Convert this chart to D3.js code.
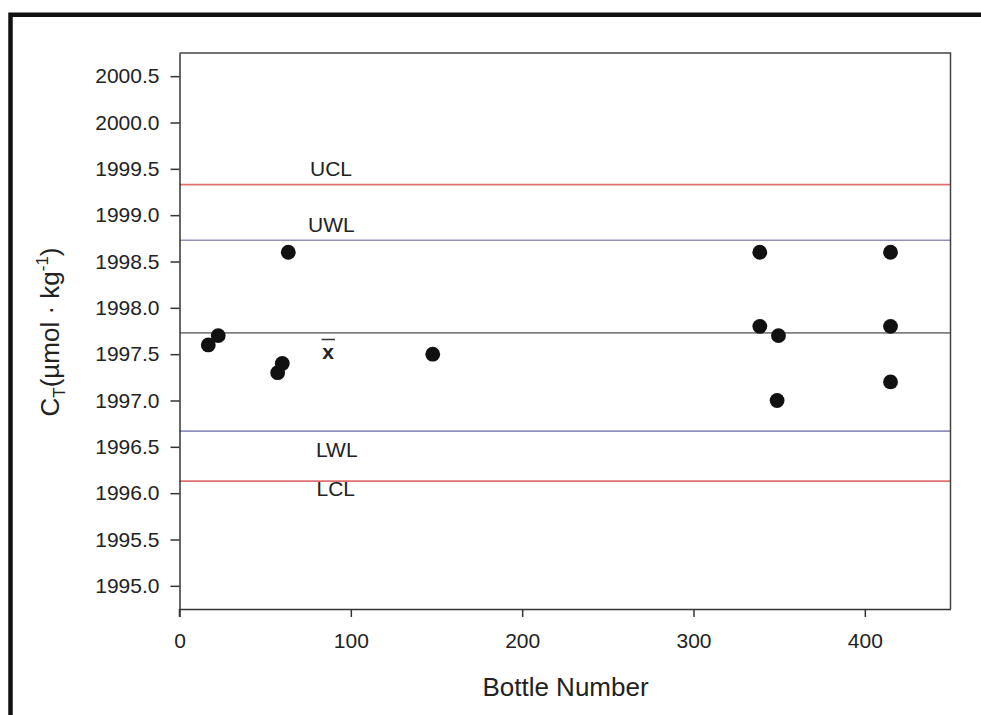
<!DOCTYPE html>
<html>
<head>
<meta charset="utf-8">
<script src="https://cdn.jsdelivr.net/npm/d3@7"></script>
<style>
body { margin: 0; background: #fff; }
svg { display: block; font-family: "Liberation Sans", Arial, sans-serif; }
</style>
</head>
<body>
<div id="chart"></div>
<script>
// bottle measurements
var bottleNo = [16.8, 22.6, 57.3, 60.0, 63.5, 147.8, 338.7, 338.7, 349.6, 348.8, 415, 415, 415];
var ctValue  = [1997.6, 1997.7, 1997.3, 1997.4, 1998.6, 1997.5, 1998.6, 1997.8, 1997.7, 1997.0, 1998.6, 1997.8, 1997.2];

// control chart limits
var limitNames  = ["UCL", "UWL", "mean", "LWL", "LCL"];
var limitValues = [1999.33, 1998.73, 1997.73, 1996.67, 1996.13];
var limitColors = ["#e07070", "#9090c0", "#808080", "#9090c0", "#e07070"];

var xTicks = [0, 100, 200, 300, 400];
var yTicks = d3.range(1995.0, 2000.51, 0.5);

var W = 981, H = 715;
var margin = {left: 179.5, top: 53, right: W - 950.5, bottom: H - 609};

var svg = d3.select("#chart").append("svg")
    .attr("width", W)
    .attr("height", H);

svg.append("rect").attr("width", W).attr("height", H).attr("fill", "#fff");

// outer frame (top + left only)
svg.append("path")
    .attr("d", "M10.5," + H + " V14.8 H" + W)
    .attr("fill", "none")
    .attr("stroke", "#111")
    .attr("stroke-width", 4.5);

var x = d3.scaleLinear().domain([0, 450]).range([margin.left, W - margin.right]);
var y = d3.scaleLinear().domain([1994.75, 2000.75]).range([H - margin.bottom, margin.top]);

// limit lines
svg.selectAll(".limit")
    .data(limitValues)
    .enter().append("line")
    .attr("class", "limit")
    .attr("x1", x(0)).attr("x2", x(450))
    .attr("y1", function(d) { return y(d); })
    .attr("y2", function(d) { return y(d); })
    .attr("stroke", function(d, i) { return limitColors[i]; })
    .attr("stroke-width", 1.6);

// limit labels
var lblPos = {UCL: [310, 176], UWL: [308, 231.7], LWL: [316, 457], LCL: [316.5, 496]};
limitNames.forEach(function(n) {
    if (!lblPos[n]) return;
    svg.append("text")
        .attr("x", lblPos[n][0]).attr("y", lblPos[n][1])
        .attr("font-size", 21)
        .attr("fill", "#222")
        .text(n);
});

// x-bar label
svg.append("text")
    .attr("x", 328).attr("y", 358.5)
    .attr("text-anchor", "middle")
    .attr("font-size", 21)
    .attr("font-weight", "bold")
    .attr("fill", "#222")
    .text("x");
svg.append("line")
    .attr("x1", 321.5).attr("x2", 335)
    .attr("y1", 339.5).attr("y2", 339.5)
    .attr("stroke", "#333").attr("stroke-width", 1.5);

// axes
var xAxis = d3.axisBottom(x).tickValues(xTicks).tickSize(8).tickSizeOuter(0).tickPadding(16);
var yAxis = d3.axisLeft(y).tickValues(yTicks).tickSize(9).tickSizeOuter(0).tickPadding(11)
    .tickFormat(d3.format(".1f"));

var gx = svg.append("g").attr("transform", "translate(0," + y.range()[0] + ")").call(xAxis);
var gy = svg.append("g").attr("transform", "translate(" + x.range()[0] + ",0)").call(yAxis);

[gx, gy].forEach(function(g) {
    g.selectAll("path, line").attr("stroke", "#333").attr("stroke-width", 1.5);
    g.selectAll("text").attr("font-size", 21).attr("fill", "#222")
        .attr("font-family", "'Liberation Sans', Arial, sans-serif");
});

// extend y axis line down to meet x tick at 0
svg.append("line")
    .attr("x1", x(0)).attr("x2", x(0))
    .attr("y1", y.range()[0]).attr("y2", y.range()[0] + 8)
    .attr("stroke", "#333").attr("stroke-width", 1.5);

// top + right frame
svg.append("path")
    .attr("d", "M" + x.range()[0] + "," + y.range()[1] + " H" + x.range()[1] + " V" + y.range()[0])
    .attr("fill", "none")
    .attr("stroke", "#444")
    .attr("stroke-width", 1.5);

// points
svg.selectAll(".dot")
    .data(bottleNo)
    .enter().append("circle")
    .attr("class", "dot")
    .attr("cx", function(d) { return x(d); })
    .attr("cy", function(d, i) { return y(ctValue[i]); })
    .attr("r", 7.4)
    .attr("fill", "#111");

// axis titles
svg.append("text")
    .attr("x", 565.5).attr("y", 696)
    .attr("text-anchor", "middle")
    .attr("font-size", 26)
    .attr("fill", "#222")
    .text("Bottle Number");

var yt = svg.append("text")
    .attr("transform", "translate(59,332) rotate(-90)")
    .attr("text-anchor", "middle")
    .attr("font-size", 26)
    .attr("fill", "#222");
yt.append("tspan").text("C");
yt.append("tspan").attr("font-size", 17).attr("dy", 6).text("T");
yt.append("tspan").attr("dy", -6).text("(\u00b5mol \u00b7 kg");
yt.append("tspan").attr("font-size", 17).attr("dy", -11).text("-1");
yt.append("tspan").attr("dy", 11).text(")");
</script>
</body>
</html>
